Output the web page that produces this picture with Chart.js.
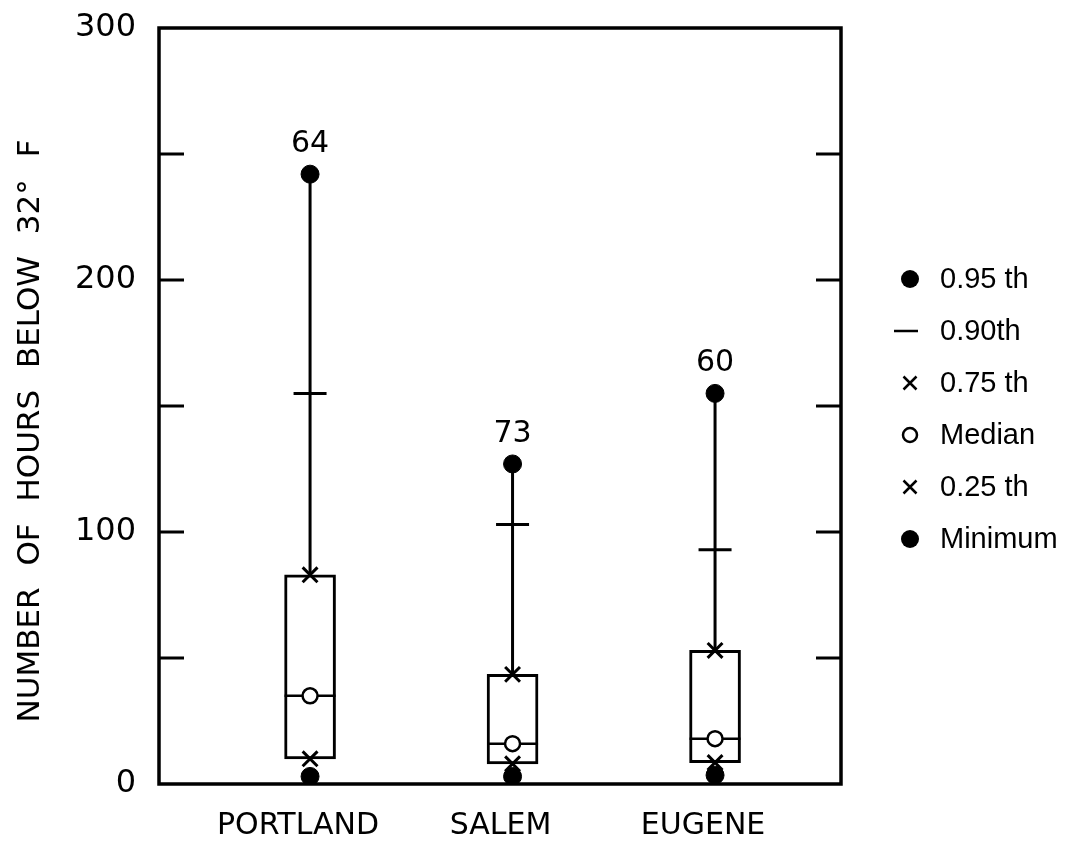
<!DOCTYPE html>
<html>
<head>
<meta charset="utf-8">
<script src="https://cdn.jsdelivr.net/npm/chart.js@4.4.1/dist/chart.umd.min.js"></script>
<style>
  html, body { margin: 0; padding: 0; background: #fff; }
  #wrap { position: relative; width: 1071px; height: 845px; }
</style>
</head>
<body>
<div id="wrap"><canvas id="chart"></canvas></div>
<script>
// hours below 32F, percentiles per station
const cities = ['PORTLAND', 'SALEM', 'EUGENE'];
const yearCounts = [64, 73, 60];
const p95 = [242, 127, 155];
const p90 = [155, 103, 93];
const p75 = [83, 43.5, 53];
const medians = [35, 16, 18];
const p25 = [10, 8, 8.5];
const minimums = [3, 3, 3.5];
const yTickLabels = [0, 100, 200, 300];
const frameTicks = [50, 100, 150, 200, 250];
const legendLabels = ['0.95 th', '0.90th', '0.75 th', 'Median', '0.25 th', 'Minimum'];
const legendSymbols = ['dot', 'dash', 'cross', 'ring', 'cross', 'dot'];

const FONT = '"DejaVu Sans", sans-serif';
const LEGEND_FONT = '"Liberation Sans", Arial, sans-serif';

const pts = (vals) => vals.map((y, i) => ({ x: i + 1, y }));

const marker = (label, vals, style, radius, fill, width, order) => ({
    type: 'scatter',
    label,
    data: pts(vals),
    pointStyle: style,
    pointRadius: radius,
    pointHoverRadius: radius,
    pointBackgroundColor: fill,
    pointBorderColor: '#000',
    pointBorderWidth: width,
    order,
});

const datasets = [
    marker('0.95 th', p95, 'circle', 9, '#000', 1, 0),
    marker('Minimum', minimums, 'circle', 9, '#000', 1, 0),
    marker('0.75 th', p75, 'crossRot', 10.5, '#000', 3, 1),
    marker('0.25 th', p25, 'crossRot', 10.5, '#000', 3, 1),
    marker('Median', medians, 'circle', 7.5, '#fff', 2.5, 2),
    marker('median bar', medians, 'line', 25.5, '#000', 2.5, 3),
    marker('0.90th', p90, 'line', 16.5, '#000', 3, 4),
    ...cities.map((c, i) => ({
        type: 'line',
        label: c,
        data: [{ x: i + 1, y: p95[i] }, { x: i + 1, y: p75[i] }],
        borderColor: '#000',
        borderWidth: 3,
        pointRadius: 0,
        order: 5,
    })),
    {
        type: 'bar',
        label: 'box',
        data: cities.map((c, i) => ({ x: i + 1, y: [p25[i], p75[i]] })),
        backgroundColor: '#fff',
        borderColor: '#000',
        borderWidth: 3,
        borderSkipped: false,
        barThickness: 51,
        order: 6,
    },
];

const decor = {
    id: 'decor',
    beforeDatasetsDraw(chart) {
        const { ctx, chartArea: a, scales: { y } } = chart;
        ctx.save();
        ctx.strokeStyle = '#000';
        ctx.lineWidth = 3.5;
        ctx.strokeRect(a.left, a.top, a.right - a.left, a.bottom - a.top);
        ctx.lineWidth = 3;
        frameTicks.forEach((v) => {
            const py = y.getPixelForValue(v);
            ctx.beginPath();
            ctx.moveTo(a.left, py);
            ctx.lineTo(a.left + 25, py);
            ctx.moveTo(a.right, py);
            ctx.lineTo(a.right - 25, py);
            ctx.stroke();
        });
        ctx.restore();
    },
    afterDraw(chart) {
        const { ctx, chartArea: a, scales: { x, y } } = chart;
        ctx.save();
        ctx.fillStyle = '#000';
        ctx.strokeStyle = '#000';

        // sample sizes above the top points
        ctx.font = '30px ' + FONT;
        ctx.textAlign = 'center';
        ctx.textBaseline = 'middle';
        yearCounts.forEach((n, i) => {
            ctx.fillText(String(n), x.getPixelForValue(i + 1), y.getPixelForValue(p95[i]) - 30);
        });

        // rotated axis title
        ctx.save();
        ctx.translate(31, (a.top + a.bottom) / 2 + 25);
        ctx.rotate(-Math.PI / 2);
        ctx.font = '31px ' + FONT;
        if ('wordSpacing' in ctx) ctx.wordSpacing = '12px';
        ctx.fillText('NUMBER OF HOURS BELOW 32° F', 0, 0);
        ctx.restore();

        // legend
        const sx = a.right + 69;
        const tx = a.right + 99;
        ctx.font = '29px ' + LEGEND_FONT;
        ctx.textAlign = 'left';
        legendLabels.forEach((label, i) => {
            const ly = a.top + 251 + i * 52;
            const kind = legendSymbols[i];
            ctx.lineWidth = 2.5;
            ctx.beginPath();
            if (kind === 'dot') {
                ctx.arc(sx, ly, 9, 0, Math.PI * 2);
                ctx.fill();
            } else if (kind === 'dash') {
                ctx.moveTo(sx - 16, ly);
                ctx.lineTo(sx + 8, ly);
                ctx.stroke();
            } else if (kind === 'cross') {
                ctx.moveTo(sx - 6.5, ly - 6.5);
                ctx.lineTo(sx + 6.5, ly + 6.5);
                ctx.moveTo(sx + 6.5, ly - 6.5);
                ctx.lineTo(sx - 6.5, ly + 6.5);
                ctx.stroke();
            } else {
                ctx.arc(sx, ly, 7, 0, Math.PI * 2);
                ctx.stroke();
            }
            ctx.fillText(label, tx, ly + 1);
        });
        ctx.restore();
    },
};

new Chart(document.getElementById('chart'), {
    type: 'bar',
    data: { datasets },
    plugins: [decor],
    options: {
        responsive: true,
        maintainAspectRatio: false,
        animation: false,
        layout: { padding: { left: 0, top: 19, right: 230, bottom: 0 } },
        plugins: {
            legend: { display: false },
            tooltip: { enabled: false },
        },
        scales: {
            x: {
                type: 'linear',
                offset: false,
                min: 0.254,
                max: 3.622,
                afterBuildTicks: (s) => { s.ticks = cities.map((c, i) => ({ value: i + 1 })); },
                afterFit: (s) => { s.height = 61; s.paddingLeft = 0; s.paddingRight = 0; },
                ticks: {
                    autoSkip: false,
                    maxRotation: 0,
                    padding: 24,
                    labelOffset: -12,
                    color: '#000',
                    font: { family: FONT, size: 30 },
                    callback: (v, i) => cities[i],
                },
                grid: { display: false, drawTicks: false, offset: false },
                border: { display: false },
            },
            y: {
                min: 0,
                max: 300,
                afterBuildTicks: (s) => { s.ticks = yTickLabels.map((v) => ({ value: v })); },
                afterFit: (s) => { s.width = 159; s.paddingTop = 0; s.paddingBottom = 0; },
                ticks: {
                    padding: 23,
                    color: '#000',
                    font: { family: FONT, size: 32 },
                },
                grid: { display: false, drawTicks: false },
                border: { display: false },
            },
        },
    },
});
</script>
</body>
</html>
